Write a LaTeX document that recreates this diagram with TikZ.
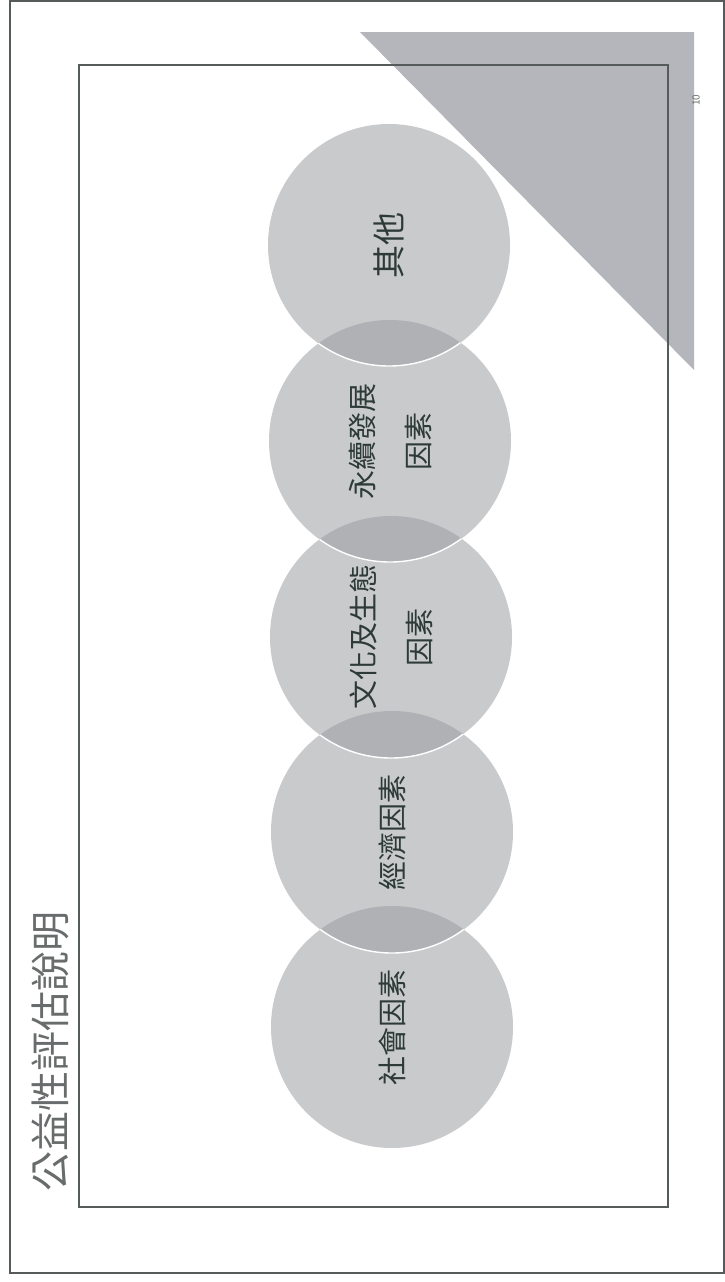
\documentclass[tikz,border=0pt]{standalone}
\usepackage{fontspec}
\newfontfamily\cjk{Noto Sans CJK TC}
\definecolor{frameC}{RGB}{85,90,90}
\definecolor{triC}{RGB}{180,182,188}
\definecolor{discC}{RGB}{154,155,160}
\definecolor{txtC}{RGB}{45,58,55}
\definecolor{titleC}{RGB}{105,108,108}
\begin{document}
\begin{tikzpicture}[x=1pt,y=-1pt,
  framebox/.style={draw=frameC,line width=1.5pt},
  disc/.style={circle,minimum size=242pt,inner sep=0pt,fill=discC,fill opacity=0.53},
  disctext/.style={rotate=90,text=txtC,font=\cjk\fontsize{29}{56}\selectfont,align=center,inner sep=0pt},
  rim/.style={draw=white,line width=1.4pt},
]
\useasboundingbox (0,0) rectangle (725,1282);
\fill[white] (0,0) rectangle (725,1282);
% outer frame
\draw[framebox] (10,1) rectangle (724,1273);
% triangle
\fill[triC] (360,32) -- (694,32) -- (694,370) -- cycle;
% inner frame
\draw[draw=frameC,line width=1.3pt] (79,65) rectangle (668,1207);
% page number
\node[rotate=90,text=titleC,font=\cjk\fontsize{10}{10}\selectfont] (pg) at (696,100) {10};
% title
\node[rotate=90,text=titleC,font=\cjk\fontsize{40}{40}\selectfont,inner sep=0pt] (title) at (50,1051) {公益性評估說明};
% discs, bottom first
\node[disc] (c1) at (392,1027) {};
\node[disc] (c2) at (392,832) {};
\node[disc] (c3) at (391,637) {};
\node[disc] (c4) at (390,441) {};
\node[disc] (c5) at (389,245) {};
% white rims of upper discs over the overlaps
\begin{scope}\clip (c1) circle[radius=121pt]; \draw[rim] (c2) circle[radius=121pt];\end{scope}
\begin{scope}\clip (c2) circle[radius=121pt]; \draw[rim] (c3) circle[radius=121pt];\end{scope}
\begin{scope}\clip (c3) circle[radius=121pt]; \draw[rim] (c4) circle[radius=121pt];\end{scope}
\begin{scope}\clip (c4) circle[radius=121pt]; \draw[rim] (c5) circle[radius=121pt];\end{scope}
% labels
\node[disctext] (t1) at (c1) {社會因素};
\node[disctext] (t2) at (c2) {經濟因素};
\node[disctext] (t3) at (c3) {文化及生態\\因素};
\node[disctext] (t4) at (c4) {永續發展\\因素};
\node[disctext,font=\cjk\fontsize{33}{56}\selectfont] (t5) at (c5) {其他};
\end{tikzpicture}
\end{document}
